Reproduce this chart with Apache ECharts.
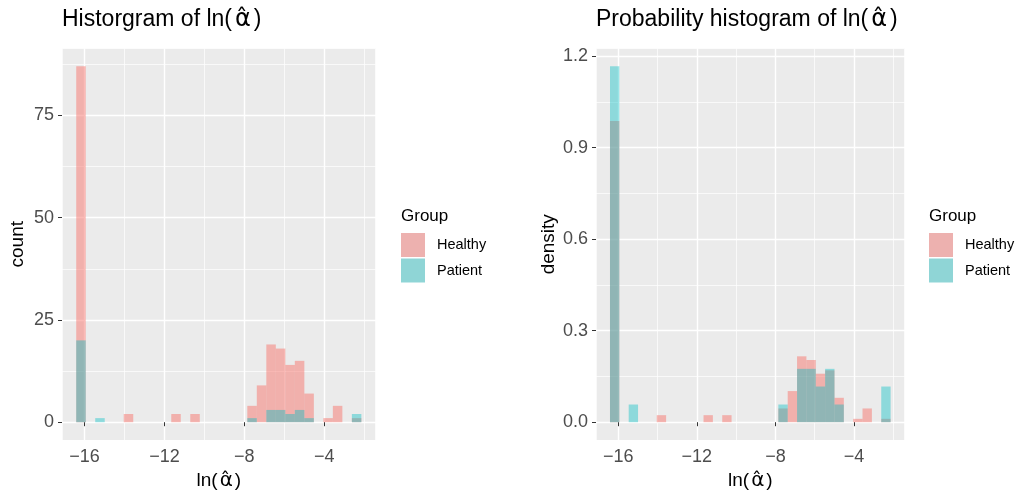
<!DOCTYPE html>
<html>
<head>
<meta charset="utf-8">
<script src="https://cdn.jsdelivr.net/npm/echarts@6/dist/echarts.min.js"></script>
<style>
  html, body { margin: 0; padding: 0; background: #fff; }
  #chart { width: 1023px; height: 495px; }
</style>
</head>
<body>
<div id="chart"></div>
<script>
// 30 bins, same breaks in both panels
const binStart = -16.418;
const binWidth = 0.476;

// counts per bin (left panel)
const healthyCount = [87, 0, 0, 0, 0, 2, 0, 0, 0, 0, 2, 0, 2, 0, 0, 0, 0, 0, 4, 9, 19, 18, 14, 15, 7, 0, 1, 4, 0, 1];
const patientCount = [20, 0, 1, 0, 0, 0, 0, 0, 0, 0, 0, 0, 0, 0, 0, 0, 0, 0, 1, 0, 3, 3, 2, 3, 1, 0, 0, 0, 0, 2];

// density per bin (right panel)
const healthyDensity = [0.988, 0, 0, 0, 0, 0.023, 0, 0, 0, 0, 0.023, 0, 0.023, 0, 0, 0, 0, 0, 0.045, 0.102, 0.216, 0.204, 0.159, 0.170, 0.080, 0, 0.011, 0.045, 0, 0.011];
const patientDensity = [1.167, 0, 0.058, 0, 0, 0, 0, 0, 0, 0, 0, 0, 0, 0, 0, 0, 0, 0, 0.058, 0, 0.175, 0.175, 0.117, 0.175, 0.058, 0, 0, 0, 0, 0.117];

const xTicks = [-16, -12, -8, -4];
const countTicks = [0, 25, 50, 75];
const densityTicks = [0, 0.3, 0.6, 0.9, 1.2];

const groups = ['Healthy', 'Patient'];
const fillColors = ['rgba(248,118,109,0.5)', 'rgba(0,191,196,0.4)'];
const keyColors = ['#EDB1AF', '#8FD5D6'];

const FONT = '"Liberation Sans", Arial, sans-serif';
const MATH = '"DejaVu Sans", sans-serif';

const chart = echarts.init(document.getElementById('chart'));

function toBins(values) {
  return values.map((v, i) => [binStart + i * binWidth, binStart + (i + 1) * binWidth, v]);
}

function barRenderer(color) {
  return function (params, api) {
    const v = api.value(2);
    if (!v) return null;
    const p0 = api.coord([api.value(0), v]);
    const p1 = api.coord([api.value(1), 0]);
    return {
      type: 'rect',
      shape: { x: p0[0], y: p0[1], width: p1[0] - p0[0], height: p1[1] - p0[1] },
      style: { fill: color }
    };
  };
}

const minus = v => String(v).replace('-', '\u2212');

// ln(alpha-hat) as rich text, alpha part in a font that places the hat well
function lnAlpha(size, pad) {
  return {
    text: 'ln({a|\u03B1\u0302})',
    rich: { a: { fontFamily: MATH, fontSize: size, padding: [0, pad, 0, pad] } }
  };
}

const axisNameLn = lnAlpha(20, 2);

function mainX(gridIndex) {
  return {
    type: 'value', gridIndex: gridIndex,
    min: -17.13, max: -1.42, minInterval: 4, maxInterval: 4,
    name: axisNameLn.text, nameLocation: 'middle', nameGap: 31,
    nameTextStyle: { fontSize: 19, color: '#000', fontFamily: FONT, rich: axisNameLn.rich },
    axisLine: { show: false },
    axisTick: { show: true, length: 4, customValues: xTicks, lineStyle: { color: '#333', width: 1 } },
    axisLabel: { customValues: xTicks, margin: 8, fontSize: 18, color: '#4D4D4D', fontFamily: FONT, formatter: minus },
    splitLine: { show: true, lineStyle: { color: '#fff', width: 1.4 } }
  };
}

function minorAxis(gridIndex, min, max, step, position) {
  return {
    type: 'value', gridIndex: gridIndex, position: position,
    min: min, max: max, minInterval: step, maxInterval: step,
    axisLine: { show: false }, axisTick: { show: false }, axisLabel: { show: false },
    splitLine: { show: true, lineStyle: { color: '#fff', width: 0.7 } }
  };
}

function mainY(gridIndex, min, max, step, ticks, name, gap, fmt) {
  return {
    type: 'value', gridIndex: gridIndex,
    min: min, max: max, minInterval: step, maxInterval: step,
    name: name, nameLocation: 'middle', nameGap: gap,
    nameTextStyle: { fontSize: 19, color: '#000', fontFamily: FONT },
    axisLine: { show: false },
    axisTick: { show: true, length: 4, customValues: ticks, lineStyle: { color: '#333', width: 1 } },
    axisLabel: { customValues: ticks, margin: 8, fontSize: 18, color: '#4D4D4D', fontFamily: FONT, formatter: fmt },
    splitLine: { show: true, lineStyle: { color: '#fff', width: 1.4 } }
  };
}

function legendFor(left) {
  return {
    left: left, top: 233, orient: 'vertical', padding: 0,
    icon: 'rect', itemWidth: 24, itemHeight: 24, itemGap: 1.5,
    selectedMode: false,
    data: groups.map((g, i) => ({ name: g, itemStyle: { color: keyColors[i] } })),
    textStyle: { fontSize: 14.5, color: '#000', fontFamily: FONT, padding: [4, 0, 0, 7] }
  };
}

const titleLn = lnAlpha(24, 3);
const titleStyle = { fontSize: 23, fontWeight: 'normal', color: '#000', fontFamily: FONT, rich: titleLn.rich };
const groupStyle = { fontSize: 17, fontWeight: 'normal', color: '#000', fontFamily: FONT };

const panels = [
  { data: [healthyCount, patientCount] },
  { data: [healthyDensity, patientDensity] }
];

const series = [];
panels.forEach((p, gi) => {
  p.data.forEach((vals, k) => {
    series.push({
      type: 'custom', name: groups[k],
      xAxisIndex: gi * 2, yAxisIndex: gi * 2,
      itemStyle: { color: fillColors[k] },
      encode: { x: [0, 1], y: 2 },
      renderItem: barRenderer(fillColors[k]),
      data: toBins(vals),
      z: 3 + k
    });
  });
});

chart.setOption({
  animation: false,
  backgroundColor: '#fff',
  title: [
    { text: 'Historgram of ' + titleLn.text, left: 62, top: 8, padding: 0, textStyle: titleStyle },
    { text: 'Probability histogram of ' + titleLn.text, left: 596, top: 8, padding: 0, textStyle: titleStyle },
    { text: 'Group', left: 401, top: 208, padding: 0, textStyle: groupStyle },
    { text: 'Group', left: 929, top: 208, padding: 0, textStyle: groupStyle }
  ],
  legend: [legendFor(401), legendFor(929)],
  grid: [
    { left: 62, top: 48.5, width: 313.7, height: 391.5, outerBoundsMode: 'none', containLabel: false, show: true, backgroundColor: '#EBEBEB', borderWidth: 0 },
    { left: 596, top: 48.5, width: 308.7, height: 391.5, outerBoundsMode: 'none', containLabel: false, show: true, backgroundColor: '#EBEBEB', borderWidth: 0 }
  ],
  xAxis: [
    mainX(0),
    minorAxis(0, -17.13, -1.42, 2, 'top'),
    mainX(1),
    minorAxis(1, -17.13, -1.42, 2, 'top')
  ],
  yAxis: [
    mainY(0, -4.35, 91.35, 25, countTicks, 'count', 35, v => String(v)),
    minorAxis(0, -4.35, 91.35, 12.5, 'right'),
    mainY(1, -0.0584, 1.2254, 0.3, densityTicks, 'density', 38, v => v.toFixed(1)),
    minorAxis(1, -0.0584, 1.2254, 0.15, 'right')
  ],
  series: series
});
</script>
</body>
</html>
